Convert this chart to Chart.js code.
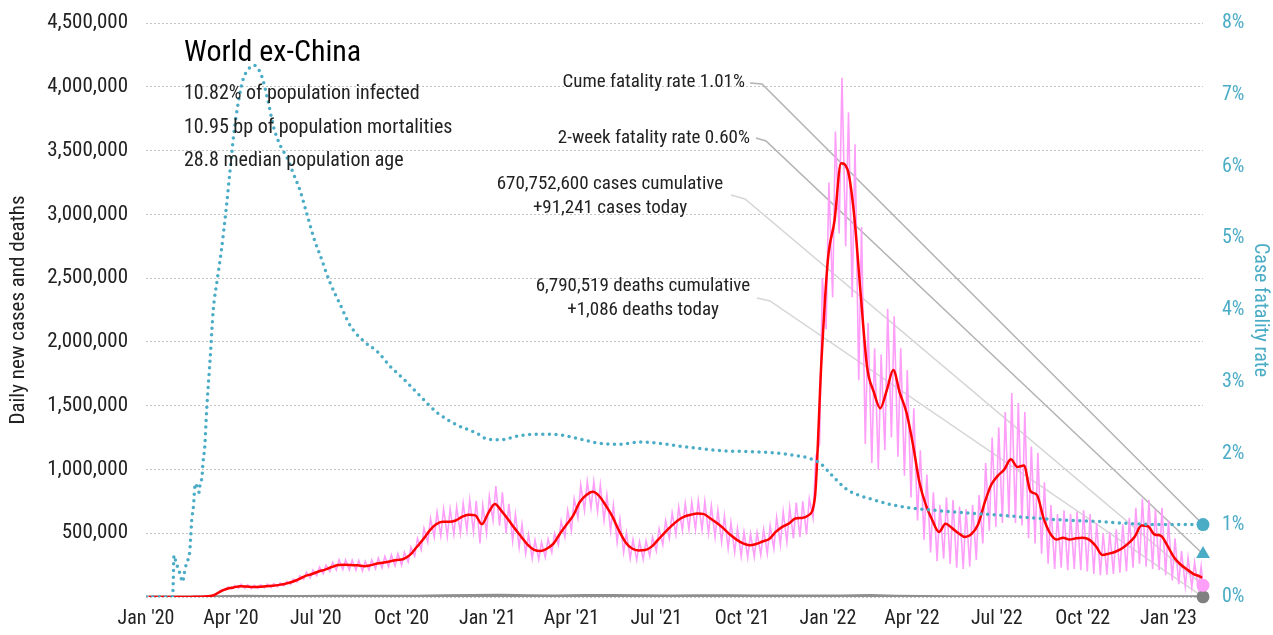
<!DOCTYPE html>
<html>
<head>
<meta charset="utf-8">
<script src="https://cdn.jsdelivr.net/npm/chart.js@4.4.1/dist/chart.umd.min.js"></script>
<style>
  html, body { margin: 0; background: #fff; }
  canvas { display: block; }
</style>
</head>
<body>
<canvas id="chartLine" width="1273" height="635"></canvas>
<script>
// ---- data (cases in thousands, one entry per week from 1 Jan 2020) ----
const firstDate = "2020-01-01";
const lastDate = "2023-02-07";

const weeklyAvg = [
  0, 0, 0, 0, 0, 0, 0.5, 1, 2,
  5, 15, 45, 65, 75, 85, 82, 78, 80, 85, 88, 95,
  105, 120, 140, 165, 180, 200, 215, 235, 250, 252,
  250, 248, 242, 250, 262, 270, 280, 290, 298, 330,
  390, 450, 520, 570, 590, 590, 600, 630, 645, 640,
  570, 660, 730, 675, 610, 540, 475, 410, 370, 360,
  380, 420, 500, 570, 640, 745, 800, 825, 790, 715,
  630, 520, 430, 380, 365, 368, 395, 450, 505, 555,
  600, 630, 645, 655, 650, 615, 580, 538, 490, 450,
  420, 405, 415, 435, 455, 510, 550, 575, 615, 620,
  640, 780, 1850, 2650, 2950, 3400, 3350, 3000, 2380, 1800,
  1610, 1480, 1620, 1780, 1600, 1450, 1200, 900, 720, 600,
  510, 575, 540, 500, 470, 495, 570, 740, 880, 950,
  1000, 1080, 1020, 1030, 830, 800, 620, 500, 450, 465,
  450, 460, 465, 450, 400, 330, 340, 355, 380, 420,
  475, 560, 555, 490, 480, 400, 310, 255, 215, 180, 160
];

const weeklyHigh = [
  0, 0, 0, 0, 0, 0, 1, 2, 4,
  9, 22, 58, 78, 90, 100, 95, 92, 95, 100, 104, 110,
  122, 140, 165, 195, 212, 235, 250, 272, 292, 292,
  290, 286, 280, 290, 305, 318, 330, 340, 350, 390,
  460, 540, 615, 665, 690, 690, 705, 735, 760, 755,
  720, 790, 870, 820, 730, 650, 570, 490, 445, 430,
  455, 500, 595, 680, 770, 880, 905, 905, 880, 800,
  720, 610, 505, 450, 435, 440, 470, 535, 600, 660,
  705, 735, 745, 755, 750, 715, 680, 635, 585, 540,
  510, 495, 505, 530, 560, 625, 670, 700, 740, 750,
  770, 1100, 2500, 3250, 3650, 4070, 3800, 3550, 2900, 2150,
  1950, 1900, 2260, 2200, 1950, 1780, 1480, 1150, 960, 820,
  720, 780, 760, 710, 690, 720, 800, 1050, 1250, 1330,
  1450, 1600, 1520, 1450, 1180, 1130, 900, 720, 650, 680,
  650, 670, 680, 650, 580, 500, 510, 530, 570, 620,
  700, 770, 760, 690, 700, 600, 460, 360, 310, 270, 240
];

const weeklyLow = [
  0, 0, 0, 0, 0, 0, 0, 0, 1,
  3, 9, 34, 54, 62, 70, 69, 66, 67, 71, 74, 80,
  88, 100, 118, 138, 150, 168, 182, 200, 212, 215,
  212, 210, 205, 212, 222, 228, 238, 245, 250, 275,
  320, 370, 430, 470, 480, 475, 490, 500, 520, 510,
  420, 500, 600, 560, 500, 440, 390, 340, 300, 295,
  310, 350, 410, 470, 520, 620, 680, 700, 670, 600,
  520, 430, 350, 300, 290, 295, 320, 360, 410, 460,
  490, 520, 530, 530, 525, 500, 470, 430, 380, 350,
  320, 310, 315, 330, 340, 380, 410, 430, 460, 470,
  490, 620, 1200, 2100, 2350, 2850, 2750, 2350, 1700, 1200,
  1050, 1000, 1150, 1250, 1100, 950, 780, 600, 450, 350,
  280, 300, 260, 230, 220, 240, 290, 420, 520, 550,
  580, 620, 580, 560, 460, 420, 340, 260, 220, 230,
  210, 220, 210, 200, 180, 170, 175, 180, 190, 200,
  230, 260, 240, 220, 210, 170, 130, 100, 85, 75, 70
];

// monthly deaths (thousands per day), Jan 2020 .. Feb 2023
const monthlyDeaths = [
  0, 0.05, 1.5, 6, 4, 4.5, 5.5, 6, 5.5, 6, 10, 11.5,
  14, 10, 8.5, 12, 12, 9, 8, 9.5, 9, 7, 7, 7,
  8.5, 11, 6.5, 4, 2.3, 1.7, 2.7, 2.6, 1.8, 1.7, 1.5, 1.6,
  1.8, 1.1
];

// case fatality rate (%), by day since 1 Jan 2020
const cfrDays = [
  0, 28, 29, 30, 32, 37, 39, 42, 44, 46, 47, 48, 49, 51, 52, 53, 57, 58, 60, 61,
  63, 65, 69, 72, 76, 81, 86, 90, 94, 99, 104, 110, 116, 124, 130, 137, 144, 151,
  158, 165, 172, 180, 187, 197, 208, 219, 233, 248, 262, 276, 294, 312, 333, 355,
  366, 380, 401, 423, 444, 466, 487, 509, 530, 552, 573, 594, 616, 637, 659, 680,
  702, 712, 723, 735, 749, 758, 776, 798, 820, 844, 881, 916, 952, 988, 1024, 1059,
  1095, 1133
];
const cfrValues = [
  0, 0, 0.12, 0.58, 0.49, 0.3, 0.21, 0.4, 0.49, 0.56, 0.65, 0.86, 1.07, 1.28, 1.49, 1.58, 1.46, 1.58, 1.67, 1.86,
  2.1, 2.6, 3.37, 3.99, 4.39, 4.85, 5.42, 5.93, 6.44, 6.9, 7.21, 7.36, 7.41, 7.26, 6.96, 6.54, 6.29, 6.13,
  5.9, 5.67, 5.36, 5.0, 4.75, 4.39, 4.08, 3.78, 3.57, 3.42, 3.21, 3.04, 2.8, 2.57, 2.4, 2.28,
  2.2, 2.19, 2.25, 2.27, 2.26, 2.2, 2.14, 2.13, 2.16, 2.14, 2.1, 2.07, 2.04, 2.03, 2.02, 2.0,
  1.96, 1.93, 1.86, 1.7, 1.52, 1.45, 1.37, 1.29, 1.24, 1.21, 1.17, 1.14, 1.1, 1.07, 1.05, 1.02,
  1.01, 1.01
];

const tickDates = [
  "2020-01-01", "2020-04-01", "2020-07-01", "2020-10-01", "2021-01-01", "2021-04-01", "2021-07-01",
  "2021-10-01", "2022-01-01", "2022-04-01", "2022-07-01", "2022-10-01", "2023-01-01"
];
const tickLabels = [
  "Jan '20", "Apr '20", "Jul '20", "Oct '20", "Jan '21", "Apr '21", "Jul '21",
  "Oct '21", "Jan '22", "Apr '22", "Jul '22", "Oct '22", "Jan '23"
];

const cumeRate = 1.01;
const twoWeekRate = 0.60;
const casesCumulative = 670752600;
const casesToday = 91241;
const deathsCumulative = 6790519;
const deathsToday = 1086;

// ---- helpers ----
const FONT = "'Roboto Condensed', Roboto, sans-serif";
const TEAL = "#4bacc6";
const PINK = "#fd9ef8";
const t0 = Date.parse(firstDate);
const dayOf = (s) => Math.round((Date.parse(s) - t0) / 864e5);
const lastDay = dayOf(lastDate);
const fmt = (n) => n.toLocaleString("en-US");

const pinkPoints = [];
weeklyLow.forEach((v, k) => {
  pinkPoints.push({ x: 7 * k + 1, y: v * 1000 });
  pinkPoints.push({ x: 7 * k + 4, y: weeklyHigh[k] * 1000 });
});
pinkPoints.push({ x: lastDay, y: casesToday });

const avgPoints = weeklyAvg.map((v, k) => ({ x: 7 * k + 3, y: v * 1000 }));
avgPoints.push({ x: lastDay - 1, y: 150000 });

const deathPoints = [{ x: 0, y: 0 }].concat(
  monthlyDeaths.map((v, i) => ({ x: dayOf(new Date(Date.UTC(2020, i, 15)).toISOString().slice(0, 10)), y: v * 1000 }))
);
deathPoints.push({ x: lastDay, y: deathsToday });

const cfrPoints = cfrDays.map((d, i) => ({ x: d, y: cfrValues[i] }));

const marker = (value, axis, style, color, r) => ({
  data: [{ x: lastDay, y: value }],
  yAxisID: axis,
  showLine: false,
  pointStyle: style,
  pointRadius: r,
  pointBackgroundColor: color,
  pointBorderWidth: 0,
  clip: false
});

// ---- annotations ----
const notes = [
  { lines: ["Cume fatality rate " + cumeRate.toFixed(2) + "%"], x: 745, y: 82, align: "right",
    from: [750, 83], elbow: [762, 84], axis: "y2", value: cumeRate, color: "#b3b3b3" },
  { lines: ["2-week fatality rate " + twoWeekRate.toFixed(2) + "%"], x: 750, y: 138, align: "right",
    from: [756, 138], elbow: [766, 141], axis: "y2", value: twoWeekRate, color: "#b3b3b3" },
  { lines: [fmt(casesCumulative) + " cases cumulative", "+" + fmt(casesToday) + " cases today"], x: 610, y: 184, align: "center",
    from: [731, 195], elbow: [745, 199], axis: "y", value: casesToday, color: "#d6d6d6" },
  { lines: [fmt(deathsCumulative) + " deaths cumulative", "+" + fmt(deathsToday) + " deaths today"], x: 643, y: 286, align: "center",
    from: [757, 298], elbow: [770, 301], axis: "y", value: deathsToday, color: "#d6d6d6" }
];

const notesPlugin = {
  id: "notes",
  beforeDatasetsDraw(chart) {
    const ctx = chart.ctx;
    const px = chart.scales.x.getPixelForValue(lastDay);
    ctx.save();
    ctx.lineWidth = 1.5;
    notes.forEach((n) => {
      const py = chart.scales[n.axis].getPixelForValue(n.value);
      ctx.strokeStyle = n.color;
      ctx.beginPath();
      ctx.moveTo(n.from[0], n.from[1]);
      ctx.lineTo(n.elbow[0], n.elbow[1]);
      ctx.lineTo(px, py);
      ctx.stroke();
    });
    ctx.restore();
  },
  afterDraw(chart) {
    const ctx = chart.ctx;
    ctx.save();
    ctx.textBaseline = "middle";
    ctx.fillStyle = "#000";
    ctx.textAlign = "left";
    ctx.font = "30px " + FONT;
    ctx.fillText("World ex-China", 184, 53);
    ctx.fillStyle = "#222";
    ctx.font = "20px " + FONT;
    ctx.fillText("10.82% of population infected", 184, 94);
    ctx.fillText("10.95 bp of population mortalities", 184, 128);
    ctx.fillText("28.8 median population age", 184, 161);
    ctx.font = "19px " + FONT;
    notes.forEach((n) => {
      ctx.textAlign = n.align;
      n.lines.forEach((t, i) => ctx.fillText(t, n.x, n.y + i * 24));
    });
    ctx.restore();
  }
};

Chart.defaults.font.family = FONT;
Chart.defaults.color = "#222";

const data = {
  datasets: [
    marker(cumeRate, "y2", "circle", TEAL, 6.5),
    marker(twoWeekRate, "y2", "triangle", TEAL, 8),
    marker(casesToday, "y", "circle", PINK, 6.5),
    marker(deathsToday, "y", "circle", "#808080", 6.5),
    {
      label: "Case fatality rate",
      data: cfrPoints,
      yAxisID: "y2",
      borderColor: TEAL,
      borderWidth: 3.5,
      borderDash: [0, 6.6],
      borderCapStyle: "round",
      pointRadius: 0,
      cubicInterpolationMode: "monotone"
    },
    {
      label: "7-day average",
      data: avgPoints,
      yAxisID: "y",
      borderColor: "#ff0000",
      borderWidth: 2.5,
      pointRadius: 0,
      cubicInterpolationMode: "monotone"
    },
    {
      label: "Daily new cases",
      data: pinkPoints,
      yAxisID: "y",
      borderColor: PINK,
      borderWidth: 1.6,
      pointRadius: 0
    },
    {
      label: "Daily deaths",
      data: deathPoints,
      yAxisID: "y",
      borderColor: "#8f8f8f",
      borderWidth: 3,
      pointRadius: 0
    }
  ]
};

const config = {
  type: "line",
  data,
  options: {
    responsive: false,
    animation: false,
    layout: { padding: { top: 23, left: 0, right: 0, bottom: 0 } },
    plugins: { legend: { display: false }, tooltip: { enabled: false } },
    scales: {
      x: {
        type: "linear",
        min: 0,
        max: lastDay,
        grid: { display: false },
        border: { display: false },
        afterFit: (s) => { s.height = 38; },
        afterBuildTicks: (s) => { s.ticks = tickDates.map((d) => ({ value: dayOf(d) })); },
        ticks: {
          padding: 2,
          maxRotation: 0,
          autoSkip: false,
          font: { size: 20 },
          color: "#222",
          callback: (v) => tickLabels[tickDates.map(dayOf).indexOf(v)]
        }
      },
      y: {
        position: "left",
        min: 0,
        max: 4500000,
        afterFit: (s) => { s.width = 146; s.paddingTop = 0; s.paddingBottom = 0; },
        grid: { color: "#c4c4c4", lineWidth: 1, drawTicks: false },
        border: { display: false, dash: [2, 2] },
        ticks: {
          stepSize: 500000,
          padding: 18,
          font: { size: 21 },
          color: "#222",
          callback: (v) => (v === 0 ? "" : fmt(v))
        },
        title: {
          display: true,
          text: "Daily new cases and deaths",
          font: { size: 21 },
          color: "#222",
          padding: { top: 6, bottom: 0 }
        }
      },
      y2: {
        position: "right",
        min: 0,
        max: 8,
        afterFit: (s) => { s.width = 70; s.paddingTop = 0; s.paddingBottom = 0; },
        grid: { display: false, drawTicks: false },
        border: { display: false },
        ticks: {
          stepSize: 1,
          padding: 19,
          font: { size: 20 },
          color: TEAL,
          callback: (v) => v + "%"
        },
        title: {
          display: true,
          text: "Case fatality rate",
          font: { size: 20 },
          color: TEAL,
          padding: { top: 1, bottom: 0 }
        }
      }
    }
  },
  plugins: [notesPlugin]
};

var chartLine = new Chart(document.getElementById("chartLine"), config);
</script>
</body>
</html>
